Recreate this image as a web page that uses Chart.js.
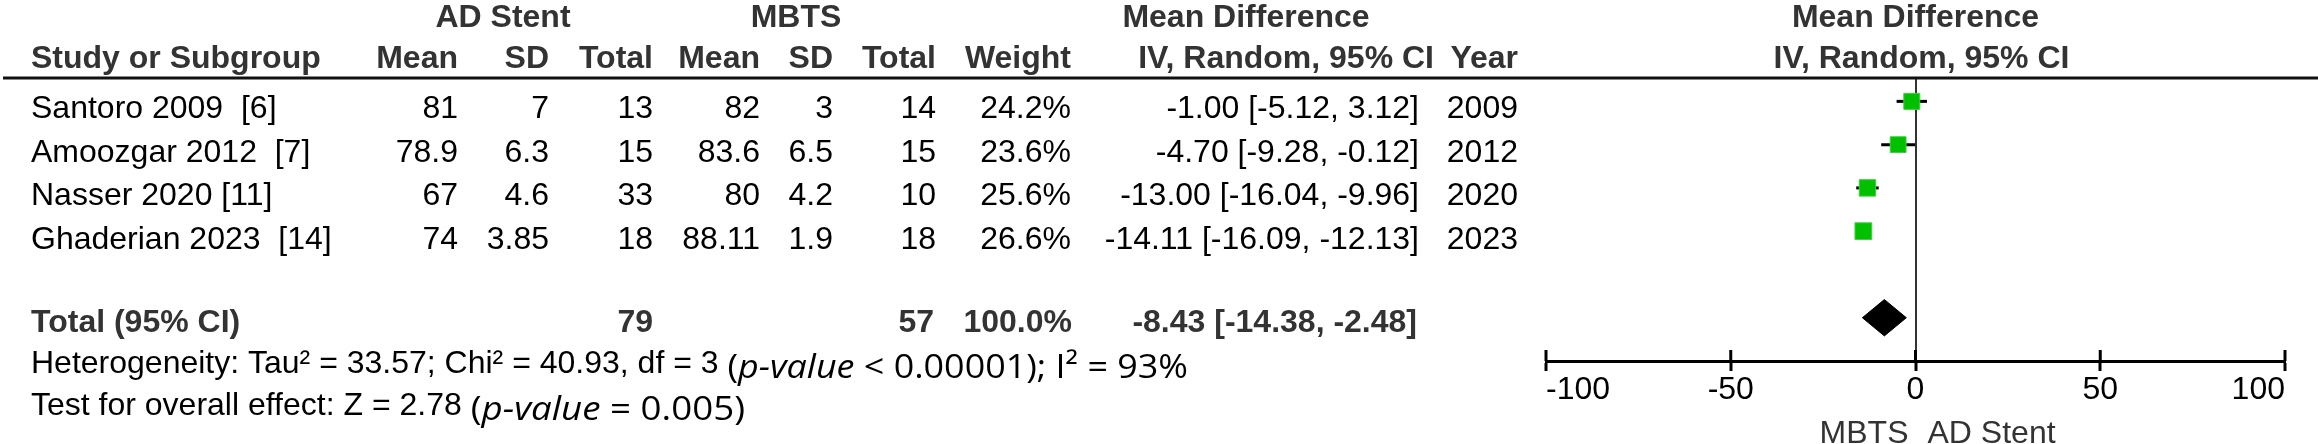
<!DOCTYPE html>
<html>
<head>
<meta charset="utf-8">
<script src="https://cdn.jsdelivr.net/npm/chart.js@4.4.1/dist/chart.umd.min.js"></script>
<style>
  html, body { margin: 0; padding: 0; background: #fff; }
  canvas { display: block; }
</style>
</head>
<body>
<canvas id="forest" width="2318" height="444"></canvas>
<script>
"use strict";

// ---- data ----
var studies = ["Santoro 2009  [6]", "Amoozgar 2012  [7]", "Nasser 2020 [11]", "Ghaderian 2023  [14]"];
var years = [2009, 2012, 2020, 2023];
var adMean = [81, 78.9, 67, 74];
var adSD = [7, 6.3, 4.6, 3.85];
var adTotal = [13, 15, 33, 18];
var mbMean = [82, 83.6, 80, 88.11];
var mbSD = [3, 6.5, 4.2, 1.9];
var mbTotal = [14, 15, 10, 18];
var weight = [24.2, 23.6, 25.6, 26.6];
var md = [-1.00, -4.70, -13.00, -14.11];
var ciLow = [-5.12, -9.28, -16.04, -16.09];
var ciHigh = [3.12, -0.12, -9.96, -12.13];

// pooled row
var totalAD = 79;
var totalMB = 57;
var totalWeight = 100.0;
var pooledMD = -8.43;
var pooledLow = -14.38;
var pooledHigh = -2.48;

// footnotes
var tau2 = "33.57", chi2 = "40.93", dfHet = "3", pHet = "< 0.00001", i2 = "93%";
var zVal = "2.78", pZ = "= 0.005";

var xTicks = [-100, -50, 0, 50, 100];

// ---- styling / layout ----
var FONT = '"Liberation Sans", Arial, sans-serif';
var FONT2 = '"Open Sans", "Noto Sans", sans-serif';
var GREY = "#333333";
var totalRow = 5;            // pooled row sits after one blank row
var diamondHalf = 0.42;      // half height of the diamond, in row units

function fmt2(v) { return v.toFixed(2); }
function ciText(m, lo, hi) { return fmt2(m) + " [" + fmt2(lo) + ", " + fmt2(hi) + "]"; }

var datasets = [];
// confidence interval whiskers
studies.forEach(function (s, i) {
    datasets.push({
        data: [{ x: ciLow[i], y: i }, { x: ciHigh[i], y: i }],
        showLine: true,
        borderColor: "#000",
        borderWidth: 3,
        pointRadius: 0,
        order: 3
    });
});
// study squares, size by weight
datasets.push({
    data: md.map(function (v, i) { return { x: v, y: i }; }),
    pointStyle: "rect",
    pointRadius: weight.map(function (w) { return 16 * Math.sqrt(w / 24.2) / Math.SQRT2 * 1.0; }),
    backgroundColor: "#00c000",
    borderColor: "#3fd03f",
    borderWidth: 1,
    order: 1
});
// pooled diamond
datasets.push({
    data: [
        { x: pooledLow, y: totalRow },
        { x: pooledMD, y: totalRow - diamondHalf },
        { x: pooledHigh, y: totalRow },
        { x: pooledMD, y: totalRow + diamondHalf },
        { x: pooledLow, y: totalRow }
    ],
    showLine: true,
    fill: "shape",
    backgroundColor: "#000",
    borderColor: "#000",
    borderWidth: 1,
    pointRadius: 0,
    order: 1
});

function put(ctx, s, x, y, align, font, color) {
    ctx.font = font;
    ctx.fillStyle = color || "#000";
    ctx.textAlign = align || "left";
    ctx.textBaseline = "alphabetic";
    ctx.fillText(s, x, y);
}

// text in the second (narrower) face, squeezed to fit between x and right
function putMixed(ctx, parts, x, y, right, size) {
    var total = 0;
    parts.forEach(function (p) {
        ctx.font = (p[1] ? "italic " : "") + size + "px " + FONT2;
        p.w = ctx.measureText(p[0]).width;
        total += p.w;
    });
    var k = (right - x) / total;
    ctx.save();
    ctx.translate(x, y);
    ctx.scale(k, 1);
    ctx.fillStyle = "#000";
    ctx.textAlign = "left";
    ctx.textBaseline = "alphabetic";
    var cx = 0;
    parts.forEach(function (p) {
        ctx.font = (p[1] ? "italic " : "") + size + "px " + FONT2;
        ctx.fillText(p[0], cx, 0);
        cx += p.w;
    });
    ctx.restore();
}

var tablePlugin = {
    id: "forestTable",
    afterDraw: function (chart) {
        var ctx = chart.ctx;
        var area = chart.chartArea;
        var xs = chart.scales.x;
        var reg = "32px " + FONT;
        var bold = "bold 32px " + FONT;

        // rule under the header
        ctx.save();
        ctx.strokeStyle = "#111";
        ctx.lineWidth = 3;
        ctx.beginPath();
        ctx.moveTo(3, area.top);
        ctx.lineTo(chart.width, area.top);
        ctx.stroke();

        // upper half of the axis tick marks
        ctx.strokeStyle = "#000";
        ctx.lineWidth = 3;
        xs.ticks.forEach(function (t) {
            var px = xs.getPixelForValue(t.value);
            ctx.beginPath();
            ctx.moveTo(px, xs.top - 11);
            ctx.lineTo(px, xs.top);
            ctx.stroke();
        });

        // header rows
        var h1 = 27, h2 = 68;
        put(ctx, "AD Stent", 503, h1, "center", bold, GREY);
        put(ctx, "MBTS", 796, h1, "center", bold, GREY);
        put(ctx, "Mean Difference", 1246, h1, "center", bold, GREY);
        put(ctx, "Mean Difference", xs.getPixelForValue(0), h1, "center", bold, GREY);

        put(ctx, "Study or Subgroup", 31, h2, "left", bold, GREY);
        put(ctx, "Mean", 458, h2, "right", bold, GREY);
        put(ctx, "SD", 549, h2, "right", bold, GREY);
        put(ctx, "Total", 653, h2, "right", bold, GREY);
        put(ctx, "Mean", 760, h2, "right", bold, GREY);
        put(ctx, "SD", 833, h2, "right", bold, GREY);
        put(ctx, "Total", 936, h2, "right", bold, GREY);
        put(ctx, "Weight", 1071, h2, "right", bold, GREY);
        put(ctx, "IV, Random, 95% CI", 1434, h2, "right", bold, GREY);
        put(ctx, "Year", 1518, h2, "right", bold, GREY);
        put(ctx, "IV, Random, 95% CI", xs.getPixelForValue(0) + 6, h2, "center", bold, GREY);

        // study rows
        studies.forEach(function (s, i) {
            var y = 118 + 43.6 * i;
            put(ctx, s, 31, y, "left", reg);
            put(ctx, String(adMean[i]), 458, y, "right", reg);
            put(ctx, String(adSD[i]), 549, y, "right", reg);
            put(ctx, String(adTotal[i]), 653, y, "right", reg);
            put(ctx, String(mbMean[i]), 760, y, "right", reg);
            put(ctx, String(mbSD[i]), 833, y, "right", reg);
            put(ctx, String(mbTotal[i]), 936, y, "right", reg);
            put(ctx, weight[i].toFixed(1) + "%", 1071, y, "right", reg);
            put(ctx, ciText(md[i], ciLow[i], ciHigh[i]), 1419, y, "right", reg);
            put(ctx, String(years[i]), 1518, y, "right", reg);
        });

        // pooled row
        var ty = 332;
        put(ctx, "Total (95% CI)", 31, ty, "left", bold, GREY);
        put(ctx, String(totalAD), 653, ty, "right", bold, GREY);
        put(ctx, String(totalMB), 934, ty, "right", bold, GREY);
        put(ctx, totalWeight.toFixed(1) + "%", 1072, ty, "right", bold, GREY);
        put(ctx, ciText(pooledMD, pooledLow, pooledHigh), 1417, ty, "right", bold, GREY);

        // heterogeneity and overall effect
        var het = "Heterogeneity: Tau\u00b2 = " + tau2 + "; Chi\u00b2 = " + chi2 + ", df = " + dfHet + " ";
        put(ctx, het, 31, 373, "left", reg);
        ctx.font = reg;
        var hx = 31 + ctx.measureText(het).width;
        putMixed(ctx, [["(", false], ["p-value", true], [" " + pHet + "); I\u00b2 = " + i2, false]], hx, 378, 1188, 33);

        var test = "Test for overall effect: Z = " + zVal + " ";
        put(ctx, test, 31, 415, "left", reg);
        ctx.font = reg;
        var tx = 31 + ctx.measureText(test).width;
        putMixed(ctx, [["(", false], ["p-value", true], [" " + pZ + ")", false]], tx, 420, 745, 33);

        // favours labels under the axis
        var zx = xs.getPixelForValue(0);
        put(ctx, "MBTS", zx - 7, 443, "right", reg, GREY);
        put(ctx, "AD Stent", zx + 12, 443, "left", reg, GREY);
        ctx.restore();
    }
};

new Chart(document.getElementById("forest"), {
    type: "scatter",
    data: { datasets: datasets },
    options: {
        responsive: false,
        animation: false,
        events: [],
        layout: { padding: { left: 1546, right: 33, top: 78, bottom: 34.6 } },
        plugins: {
            legend: { display: false },
            tooltip: { enabled: false }
        },
        scales: {
            x: {
                type: "linear",
                position: "bottom",
                min: -100,
                max: 100,
                afterBuildTicks: function (scale) {
                    scale.ticks = xTicks.map(function (v) { return { value: v }; });
                },
                border: { display: true, color: "#000", width: 3 },
                grid: {
                    drawOnChartArea: true,
                    color: function (c) { return c.tick && c.tick.value === 0 ? "#333" : "rgba(0,0,0,0)"; },
                    lineWidth: 2,
                    drawTicks: true,
                    tickLength: 10,
                    tickColor: "#000",
                    tickWidth: 3
                },
                ticks: {
                    color: "#000",
                    font: { family: FONT, size: 32 },
                    padding: 0,
                    align: "inner",
                    maxRotation: 0
                }
            },
            y: {
                type: "linear",
                reverse: true,
                min: -0.54,
                max: 6.0,
                display: false
            }
        }
    },
    plugins: [tablePlugin]
});
</script>
</body>
</html>
